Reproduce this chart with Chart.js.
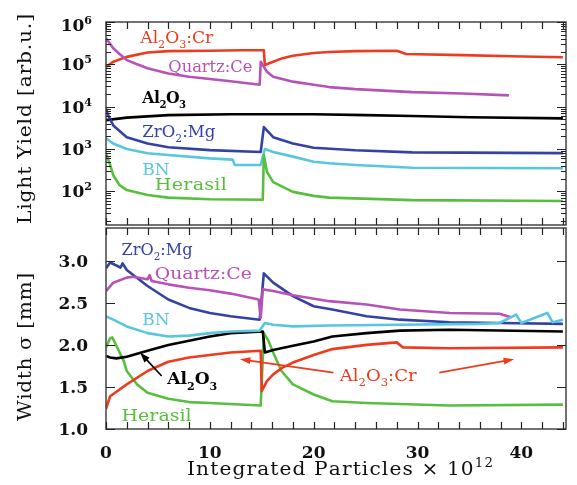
<!DOCTYPE html>
<html>
<head>
<meta charset="utf-8">
<script src="https://cdn.jsdelivr.net/npm/chart.js@4.4.0/dist/chart.umd.min.js"></script>
<style>
  html, body { margin: 0; padding: 0; background: #fff; }
  #wrap { position: relative; width: 577px; height: 485px; }
  #topBox { position: absolute; left: 0; top: 0; width: 577px; height: 228px; }
  #botBox { position: absolute; left: 0; top: 227px; width: 577px; height: 258px; }
</style>
</head>
<body>
<div id="wrap">
  <div id="topBox"><canvas id="topChart"></canvas></div>
  <div id="botBox"><canvas id="botChart"></canvas></div>
</div>
<script>
// === Data (x in units of 10^12 particles) ===
// top panel: light yield [arb.u.]
const lyCrX = [0, 0.7, 2, 4, 6, 10, 13, 15.2, 15.3, 16.1, 17, 18, 20, 21.5, 24, 28, 28.9, 34.3, 39, 44];
const lyCrY = [8.7e4, 1.15e5, 1.5e5, 1.9e5, 2.05e5, 2.1e5, 2.15e5, 2.15e5, 9.6e4, 1.15e5, 1.4e5, 1.6e5, 1.85e5, 1.95e5, 2.05e5, 2.1e5, 1.75e5, 1.65e5, 1.55e5, 1.47e5];
const lyQzX = [0, 0.7, 1.3, 2, 3, 4, 6, 8, 10, 12, 14.8, 14.9, 15.5, 16.1, 18, 20, 21.5, 24, 29.5, 34.3, 38.8];
const lyQzY = [4.1e5, 2.4e5, 1.75e5, 1.26e5, 1e5, 8.1e4, 6.1e4, 5.1e4, 4.5e4, 4e4, 3.3e4, 1.15e5, 6.7e4, 5.1e4, 3.9e4, 3.3e4, 2.9e4, 2.6e4, 2.2e4, 2.05e4, 1.85e4];
const lyAlX = [0, 2, 6, 12, 15, 20, 25, 29.5, 35, 44];
const lyAlY = [4.8e3, 5.5e3, 6.3e3, 6.6e3, 6.6e3, 6.6e3, 6.3e3, 6e3, 5.6e3, 5.3e3];
const lyZrX = [0, 0.2, 0.7, 2, 4, 6, 10, 14.9, 15.2, 16.1, 18, 20, 24, 29.5, 44];
const lyZrY = [9e3, 6.3e3, 3.6e3, 1.9e3, 1.35e3, 1.1e3, 940, 850, 3.3e3, 1.9e3, 1.35e3, 1.07e3, 930, 830, 800];
const lyBnX = [0, 0.7, 2, 4, 6, 10, 12.2, 12.4, 14.9, 15.3, 16.1, 18, 20, 21.5, 24, 29.5, 44];
const lyBnY = [1.8e3, 1.35e3, 1e3, 790, 720, 600, 560, 420, 420, 1e3, 850, 660, 500, 460, 420, 360, 350];
const lyHeX = [0, 0.4, 0.7, 1.3, 2, 4, 6, 10, 15.1, 15.2, 15.5, 16.1, 18, 20, 21.5, 29.5, 44];
const lyHeY = [790, 420, 240, 140, 107, 82, 71, 65, 63, 720, 290, 165, 97, 78, 71, 62, 59];

// bottom panel: width sigma [mm]
const wZrX = [0, 0.4, 0.9, 1.4, 1.6, 2, 4, 6, 8, 10, 12, 14.8, 15.2, 16.1, 18, 20, 21.8, 25.1, 28.3, 33.1, 37.9, 44];
const wZrY = [2.91, 2.98, 2.95, 2.92, 2.97, 2.89, 2.70, 2.54, 2.44, 2.38, 2.34, 2.30, 2.85, 2.74, 2.58, 2.46, 2.42, 2.34, 2.30, 2.27, 2.26, 2.25];
const wQzX = [0, 0.7, 2, 2.6, 4, 4.2, 4.4, 6, 8, 10, 12, 14.7, 14.9, 15.1, 16.1, 18, 21.5, 25.1, 28.3, 33.1, 37.9, 39];
const wQzY = [2.64, 2.74, 2.80, 2.81, 2.78, 2.83, 2.76, 2.72, 2.68, 2.65, 2.61, 2.54, 2.32, 2.66, 2.64, 2.59, 2.52, 2.48, 2.42, 2.38, 2.37, 2.33];
const wBnX = [0, 0.7, 2, 4, 6, 8, 10, 12, 14.8, 15.3, 16.1, 18, 21.5, 28.3, 36, 37.9, 39.5, 40, 42.5, 43, 44];
const wBnY = [2.34, 2.30, 2.22, 2.14, 2.10, 2.11, 2.14, 2.16, 2.17, 2.26, 2.24, 2.22, 2.23, 2.24, 2.25, 2.26, 2.36, 2.26, 2.38, 2.27, 2.30];
const wAlX = [0, 0.4, 1, 2, 4, 6, 8, 10, 12, 15.1, 15.3, 16.1, 18, 20, 21.8, 25.1, 28.3, 33.1, 44];
const wAlY = [1.87, 1.85, 1.84, 1.86, 1.93, 2.00, 2.05, 2.10, 2.14, 2.16, 1.91, 1.94, 1.99, 2.04, 2.10, 2.14, 2.17, 2.18, 2.16];
const wCrX = [0, 0.4, 2, 4, 6, 8, 10, 12, 14.9, 15.0, 15.5, 16.1, 17, 18, 20, 21.8, 25.1, 28, 28.6, 33, 44];
const wCrY = [1.24, 1.39, 1.53, 1.69, 1.80, 1.85, 1.88, 1.91, 1.93, 1.45, 1.57, 1.65, 1.73, 1.79, 1.88, 1.95, 2.00, 2.03, 1.97, 1.96, 1.97];
const wHeX = [0, 0.4, 0.6, 1.0, 1.7, 2, 3, 4, 6, 8, 10, 14.9, 15.2, 15.6, 16.1, 16.9, 18, 20, 21.8, 25.1, 33, 44];
const wHeY = [1.97, 2.08, 2.09, 1.99, 1.81, 1.69, 1.53, 1.43, 1.36, 1.32, 1.31, 1.28, 2.14, 2.06, 1.91, 1.69, 1.53, 1.41, 1.33, 1.31, 1.28, 1.29];

// tick labels
const xTickLabels = [0, 10, 20, 30, 40];
const lyTickExps = [2, 3, 4, 5, 6];
const wTickLabels = [1.0, 1.5, 2.0, 2.5, 3.0];

const FONT = "'DejaVu Serif', 'Liberation Serif', serif";
const COL = {
  cr: "#ee3b1d", qz: "#b752b8", al: "#000000",
  zr: "#3442a6", bn: "#58c6de", he: "#58bf3e"
};

function series(xs, ys, color) {
  return {
    data: xs.map((x, i) => ({ x: x, y: ys[i] })),
    borderColor: color,
    borderWidth: 2.6,
    pointRadius: 0,
    tension: 0,
    fill: false
  };
}

// draw text with _sub and ^sup pieces; widen a bit toward a target width
function drawRich(ctx, str, x, y, size, weight, align, targetW) {
  const parts = [];
  str.split(/(_\d+|\^\d+)/).forEach(s => {
    if (!s) return;
    if (s[0] === "_") parts.push({ t: s.slice(1), k: 1 });
    else if (s[0] === "^") parts.push({ t: s.slice(1), k: 2 });
    else parts.push({ t: s, k: 0 });
  });
  const fontFor = k => weight + " " + (k ? Math.round(size * 0.65) : size) + "px " + FONT;
  let w = 0, n = 0;
  parts.forEach(p => {
    ctx.font = fontFor(p.k);
    p.ws = Array.from(p.t).map(c => ctx.measureText(c).width);
    p.ws.forEach(cw => { w += cw; n++; });
  });
  let sx = 1, sp = 0;
  if (targetW) {
    sx = Math.max(0.92, Math.min(1.12, targetW / w));
    sp = n > 1 ? Math.max(-0.5, (targetW - w * sx) / (n - 1)) : 0;
  }
  const total = w * sx + sp * (n - 1);
  const x0 = align === "right" ? x - total : align === "center" ? x - total / 2 : x;
  ctx.save();
  ctx.translate(x0, y);
  ctx.scale(sx, 1);
  let lx = 0;
  parts.forEach(p => {
    ctx.font = fontFor(p.k);
    const dy = p.k === 1 ? size * 0.3 : p.k === 2 ? -size * 0.42 : 0;
    Array.from(p.t).forEach((c, i) => {
      ctx.fillText(c, lx, dy);
      lx += p.ws[i] + sp / sx;
    });
  });
  ctx.restore();
}

function arrow(ctx, x1, y1, x2, y2, color) {
  const ang = Math.atan2(y2 - y1, x2 - x1);
  ctx.strokeStyle = color; ctx.fillStyle = color; ctx.lineWidth = 1.6;
  ctx.beginPath(); ctx.moveTo(x1, y1);
  ctx.lineTo(x2 - 8 * Math.cos(ang), y2 - 8 * Math.sin(ang)); ctx.stroke();
  ctx.beginPath();
  ctx.moveTo(x2, y2);
  ctx.lineTo(x2 - 11 * Math.cos(ang - 0.32), y2 - 11 * Math.sin(ang - 0.32));
  ctx.lineTo(x2 - 11 * Math.cos(ang + 0.32), y2 - 11 * Math.sin(ang + 0.32));
  ctx.closePath(); ctx.fill();
}

// frame, inward ticks, tick labels and annotations
function makePanel(cfg) {
  return {
    id: "panel_" + cfg.name,
    afterDraw(chart) {
      const ctx = chart.ctx, a = chart.chartArea;
      const xs = chart.scales.x, ys = chart.scales.y;
      ctx.save();
      ctx.textBaseline = "alphabetic";
      ctx.textAlign = "left";

      // annotations
      cfg.labels.forEach(l => {
        ctx.fillStyle = l.color;
        drawRich(ctx, l.text, xs.getPixelForValue(l.x), ys.getPixelForValue(l.y),
          l.size || 17, l.bold ? "bold" : "normal", "left", l.w);
      });
      (cfg.arrows || []).forEach(r => {
        arrow(ctx, xs.getPixelForValue(r.from[0]), ys.getPixelForValue(r.from[1]),
          xs.getPixelForValue(r.to[0]), ys.getPixelForValue(r.to[1]), r.color);
      });

      // frame
      ctx.strokeStyle = "#444";
      ctx.lineWidth = 1.5;
      ctx.strokeRect(a.left, a.top, a.right - a.left, a.bottom - a.top);

      // ticks
      ctx.strokeStyle = "#222";
      ctx.lineWidth = 1.2;
      ctx.beginPath();
      for (let v = 0; v <= xs.max; v += 2) {
        const px = Math.round(xs.getPixelForValue(v)) + 0.5;
        ctx.moveTo(px, a.top); ctx.lineTo(px, a.top + 7);
        ctx.moveTo(px, a.bottom); ctx.lineTo(px, a.bottom - 7);
      }
      cfg.yTicks.forEach(t => {
        const py = Math.round(ys.getPixelForValue(t[0])) + 0.5;
        ctx.moveTo(a.left, py); ctx.lineTo(a.left + t[1], py);
        ctx.moveTo(a.right, py); ctx.lineTo(a.right - t[1], py);
      });
      ctx.stroke();

      // tick labels
      ctx.fillStyle = "#111";
      cfg.yLabels.forEach(l => {
        drawRich(ctx, l.text, a.left - cfg.yGap, ys.getPixelForValue(l.v) + 6 + (l.dy || 0), 17, "bold", "right");
      });
      (cfg.xLabels || []).forEach(v => {
        drawRich(ctx, String(v), xs.getPixelForValue(v), a.bottom + 29, 17, "bold", "center");
      });
      if (cfg.xTitle) {
        drawRich(ctx, cfg.xTitle, (a.left + a.right) / 2 + 4, a.bottom + 46, 18, "normal", "center", 306);
      }

      // y title
      ctx.translate(31, cfg.yTitleCenter);
      ctx.rotate(-Math.PI / 2);
      drawRich(ctx, cfg.yTitle, 0, 0, 18, "normal", "center", cfg.yTitleW);
      ctx.restore();
    }
  };
}

const logTicks = [];
for (let e = 1; e <= 5; e++) {
  for (let m = 1; m <= 9; m++) {
    const v = m * Math.pow(10, e);
    if (v >= 17) logTicks.push([v, m === 1 ? 9 : 5]);
  }
}
logTicks.push([1e6, 9]);

function baseOptions(yScale, pad) {
  return {
    responsive: true,
    maintainAspectRatio: false,
    animation: false,
    layout: { padding: pad },
    plugins: { legend: { display: false }, tooltip: { enabled: false } },
    elements: { line: { borderJoinStyle: "round" } },
    scales: {
      x: { type: "linear", display: false, min: 0, max: 44.3 },
      y: yScale
    }
  };
}

new Chart(document.getElementById("topChart"), {
  type: "line",
  data: {
    datasets: [
      series(lyHeX, lyHeY, COL.he),
      series(lyBnX, lyBnY, COL.bn),
      series(lyZrX, lyZrY, COL.zr),
      series(lyAlX, lyAlY, COL.al),
      series(lyQzX, lyQzY, COL.qz),
      series(lyCrX, lyCrY, COL.cr)
    ]
  },
  options: baseOptions(
    { type: "logarithmic", display: false, min: 16, max: 1e6 },
    { left: 106, right: 11, top: 22, bottom: 3 }
  ),
  plugins: [makePanel({
    name: "top",
    yTicks: logTicks,
    yGap: 14,
    yLabels: lyTickExps.map(e => ({ v: Math.pow(10, e), text: "10^" + e, dy: e === 6 ? 3 : 0 })),
    yTitle: "Light Yield [arb.u.]",
    yTitleW: 210,
    yTitleCenter: 119,
    labels: [
      { text: "Al_2O_3:Cr", x: 3.3, y: 3.2e5, color: COL.cr, w: 73 },
      { text: "Quartz:Ce", x: 6.0, y: 6.6e4, color: COL.qz, size: 16, w: 84 },
      { text: "Al_2O_3", x: 3.5, y: 1.2e4, color: COL.al, bold: true, w: 40 },
      { text: "ZrO_2:Mg", x: 3.5, y: 1.9e3, color: COL.zr, w: 73 },
      { text: "BN", x: 3.5, y: 240, color: COL.bn },
      { text: "Herasil", x: 4.7, y: 108, color: COL.he, w: 72 }
    ]
  })]
});

new Chart(document.getElementById("botChart"), {
  type: "line",
  data: {
    datasets: [
      series(wBnX, wBnY, COL.bn),
      series(wQzX, wQzY, COL.qz),
      series(wZrX, wZrY, COL.zr),
      series(wCrX, wCrY, COL.cr),
      series(wAlX, wAlY, COL.al),
      series(wHeX, wHeY, COL.he)
    ]
  },
  options: baseOptions(
    { type: "linear", display: false, min: 1.0, max: 3.39 },
    { left: 106, right: 11, top: 1, bottom: 56 }
  ),
  plugins: [makePanel({
    name: "bot",
    yTicks: wTickLabels.map(v => [v, 9]),
    yGap: 18,
    yLabels: wTickLabels.map(v => ({ v: v, text: v.toFixed(1) })),
    xLabels: xTickLabels,
    xTitle: "Integrated Particles \u00d7 10^12",
    yTitle: "Width \u03c3 [mm]",
    yTitleW: 148,
    yTitleCenter: 120,
    labels: [
      { text: "ZrO_2:Mg", x: 1.5, y: 3.07, color: COL.zr, w: 71 },
      { text: "Quartz:Ce", x: 4.7, y: 2.78, color: COL.qz, w: 97 },
      { text: "BN", x: 3.5, y: 2.24, color: COL.bn },
      { text: "Al_2O_3", x: 5.9, y: 1.53, color: COL.al, bold: true, w: 50 },
      { text: "Herasil", x: 1.5, y: 1.09, color: COL.he, w: 70 },
      { text: "Al_2O_3:Cr", x: 22.5, y: 1.57, color: COL.cr, w: 77 }
    ],
    arrows: [
      { from: [5.36, 1.63], to: [3.27, 1.91], color: "#000" },
      { from: [21.9, 1.67], to: [12.9, 1.83], color: COL.cr },
      { from: [32.1, 1.67], to: [39.3, 1.83], color: COL.cr }
    ]
  })]
});
</script>
</body>
</html>
